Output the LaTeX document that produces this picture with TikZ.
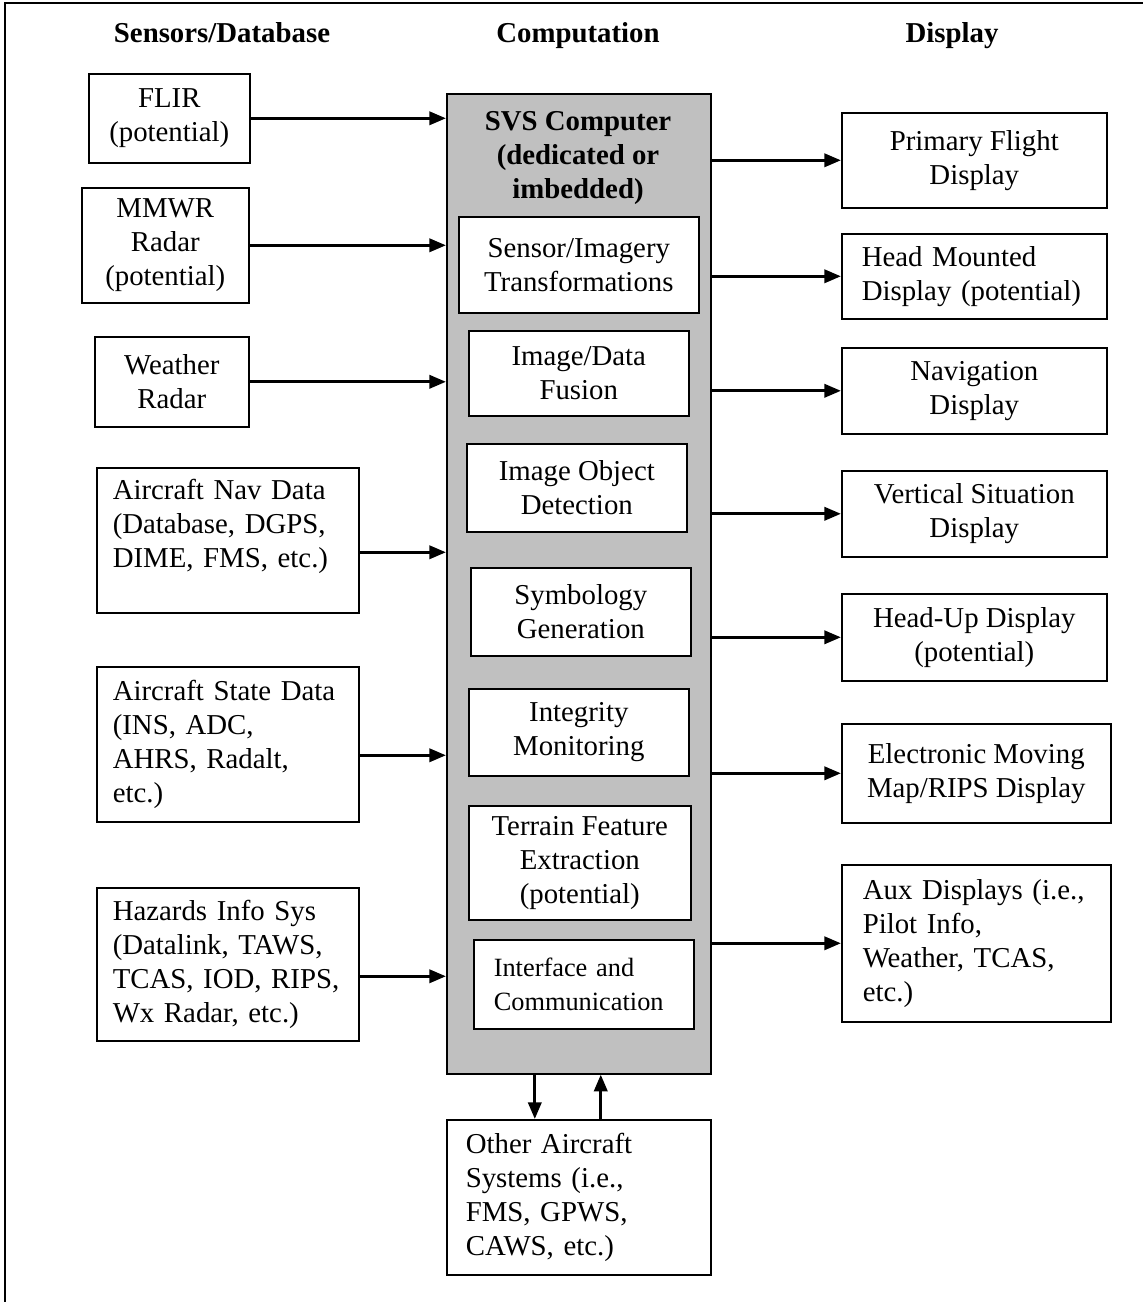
\documentclass[tikz,border=0pt]{standalone}
\usepackage{fontspec}
\setmainfont{Liberation Serif}
\usetikzlibrary{positioning,arrows.meta}
\definecolor{svsgray}{HTML}{C0C0C0}

\begin{document}
\begin{tikzpicture}[
  x=0.02cm, y=-0.02cm,
  font=\fontsize{16.4}{19.3}\selectfont,
  unit/.style={draw=black, line width=0.9pt, fill=white, inner sep=0pt, align=center, anchor=north west},
  wh/.style 2 args={minimum width=#1*0.02cm, minimum height=#2*0.02cm},
  colhead/.style={font=\fontsize{16.4}{19.3}\selectfont\bfseries, anchor=base},
  feed/.style={line width=1.8pt, -{Triangle[length=9.5pt,width=7.5pt]}},
]

\useasboundingbox (0,0) rectangle (1143,1302);

% Page frame (only top and left edges fall on the page)
\draw[line width=1pt] (5,1320) -- (5,3) -- (1160,3);

% Column titles
\node[colhead] (hsens) at (222,42) {Sensors/Database};
\node[colhead] (hcomp) at (578,42) {Computation};
\node[colhead] (hdisp) at (952,42) {Display};

% Sensors and databases, left column
\node[unit, wh={161}{89}] (flir) at (88,73) {FLIR\\(potential)};
\node[unit, wh={167}{115}] (mmwr) at (81,187) {MMWR\\Radar\\(potential)};
\node[unit, wh={154}{90}] (wxr) at (94,336) {Weather\\Radar};
\node[unit, align=left, text width=4.6cm, inner xsep=0.32cm, minimum height=2.9cm] (nav) at (96,467)
  {Aircraft Nav Data\\(Database, DGPS,\\DIME, FMS, etc.)\\~};
\node[unit, align=left, text width=4.6cm, inner xsep=0.32cm, minimum height=3.1cm] (state) at (96,666)
  {Aircraft State Data\\(INS, ADC,\\AHRS, Radalt,\\etc.)};
\node[unit, align=left, text width=4.6cm, inner xsep=0.32cm, minimum height=3.06cm] (haz) at (96,887)
  {Hazards Info Sys\\(Datalink, TAWS,\\TCAS, IOD, RIPS,\\Wx Radar, etc.)};

% SVS computer with its functions
\node[draw=black, line width=0.9pt, fill=svsgray, wh={264}{980}, anchor=north west] (svs) at (446,93) {};
\node[font=\fontsize{16.4}{19.3}\selectfont\bfseries, align=center] (svstitle) at (578,158)
  {SVS Computer\\(dedicated or\\imbedded)};
\node[unit, wh={240}{96}] (xform) at (458,216) {Sensor/Imagery\\Transformations};
\node[unit, wh={220}{85}] (fusion) at (468,330) {Image/Data\\Fusion};
\node[unit, wh={220}{88}] (detect) at (466,443) {Image Object\\Detection};
\node[unit, wh={220}{88}] (symgen) at (470,567) {Symbology\\Generation};
\node[unit, wh={220}{87}] (integ) at (468,688) {Integrity\\Monitoring};
\node[unit, wh={222}{114}] (terrain) at (468,805) {Terrain Feature\\Extraction\\(potential)};
\node[unit, align=left, font=\fontsize{15}{19.3}\selectfont, text width=3.6cm, inner xsep=0.4cm, minimum height=1.78cm] (iface) at (473,939)
  {Interface and\\Communication};

% Displays, right column
\node[unit, wh={265}{95}] (pfd) at (841,112) {Primary Flight\\Display};
\node[unit, align=left, text width=4.5cm, inner xsep=0.4cm, minimum height=1.7cm] (hmd) at (841,233)
  {Head Mounted\\Display (potential)};
\node[unit, wh={265}{86}] (navdisp) at (841,347) {Navigation\\Display};
\node[unit, wh={265}{86}] (vsd) at (841,470) {Vertical Situation\\Display};
\node[unit, wh={265}{87}] (hud) at (841,593) {Head-Up Display\\(potential)};
\node[unit, wh={269}{99}] (emm) at (841,723) {Electronic Moving\\Map/RIPS Display};
\node[unit, align=left, text width=4.54cm, inner xsep=0.42cm, minimum height=3.14cm] (aux) at (841,864)
  {Aux Displays (i.e.,\\Pilot Info,\\Weather, TCAS,\\etc.)};

% Other aircraft systems below
\node[unit, align=left, text width=4.52cm, inner xsep=0.38cm, minimum height=3.1cm] (other) at (446,1119)
  {Other Aircraft\\Systems (i.e.,\\FMS, GPWS,\\CAWS, etc.)};

% Inputs into the computer
\coordinate (navout) at ([yshift=-0.24cm]nav.east);
\coordinate (stateout) at ([yshift=-0.22cm]state.east);
\coordinate (hazout) at ([yshift=-0.24cm]haz.east);
\draw[feed] (flir.east) -- (flir.east -| svs.west);
\draw[feed] (mmwr.east) -- (mmwr.east -| svs.west);
\draw[feed] (wxr.east) -- (wxr.east -| svs.west);
\draw[feed] (navout) -- (navout -| svs.west);
\draw[feed] (stateout) -- (stateout -| svs.west);
\draw[feed] (hazout) -- (hazout -| svs.west);

% Outputs to the displays
\foreach \d in {pfd,hmd,navdisp,vsd,hud,emm,aux}
  \draw[feed] (\d.west -| svs.east) -- (\d.west);

% Two-way link with other systems
\coordinate (down) at ([xshift=-0.88cm]svs.south);
\coordinate (up) at ([xshift=0.44cm]other.north);
\draw[feed] (down) -- (down |- other.north);
\draw[feed] (up) -- (up |- svs.south);

\end{tikzpicture}
\end{document}
